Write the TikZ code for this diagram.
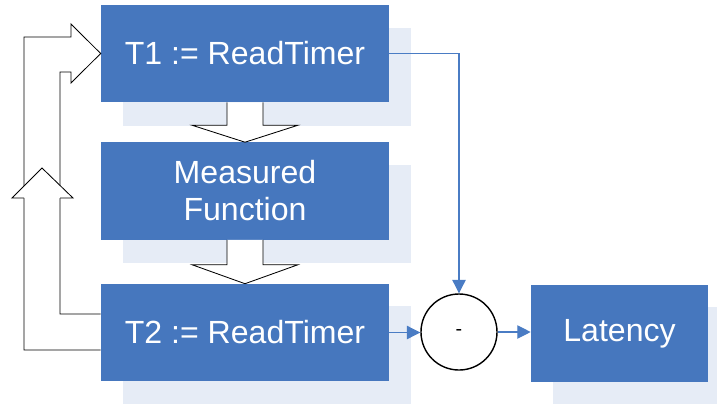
\documentclass[tikz,border=0pt]{standalone}
\usepackage{
	fontspec,			% Fonts
	xcolor,			% Colours
	tikz
}
\setmainfont{Liberation Sans}
\usetikzlibrary{calc,arrows.meta}

\definecolor{boxblue}{HTML}{4677BE}
\definecolor{shadeblue}{HTML}{E6ECF6}
\definecolor{lineblue}{HTML}{4A7CC4}

\begin{document}
\begin{tikzpicture}[x=0.025cm,y=-0.025cm,
		stage/.style={fill=boxblue,text=white,minimum width=7.2cm,minimum height=2.425cm,inner sep=0pt,align=center,font=\fontsize{22.8}{26.3}\selectfont},
		blockarr/.style={draw=black,fill=white,line width=0.6pt},
		link/.style={draw=lineblue,line width=0.8pt,-{Triangle[length=9.5pt,width=9.5pt]}}]
		\useasboundingbox (0,0) rectangle (717,404);
		\fill[shadeblue] (123,28) rectangle (411,126);
		\fill[shadeblue] (123,165) rectangle (411,263);
		\fill[shadeblue] (123,306) rectangle (411,404);
		\fill[shadeblue] (553,307) rectangle (730,404);
		\node[stage] (t1) at (245,53.5) {T1 := ReadTimer};
		\node[stage] (meas) at (245,191) {Measured\\Function};
		\node[stage] (t2) at (245,332.5) {T2 := ReadTimer};
		\node[stage,minimum width=4.425cm] (lat) at (619.5,333.5) {Latency};
		\node[circle,draw,line width=1pt,minimum size=1.9cm,inner sep=0pt,font=\fontsize{14}{16}\selectfont] (diff) at (459,332) {-};
		\draw[blockarr] ($(t1.south)+(-18,0)$) |- ($(meas.north)+(-53,-17)$) -- (meas.north) -- ($(meas.north)+(53,-17)$) -| ($(t1.south)+(18,0)$);
		\draw[blockarr] ($(meas.south)+(-18,0)$) |- ($(t2.north)+(-53,-19)$) -- (t2.north) -- ($(t2.north)+(53,-19)$) -| ($(meas.south)+(18,0)$);
		\draw[line width=0.6pt] ($(t2.west)+(0,17.5)$) -| (24,37) -- (71,37) -- (71,24) -- (t1.west) -- (71,83) -- (71,72) -- (60,72) |- ($(t2.west)+(0,-18.5)$);
		\filldraw[blockarr] (24,198) -- (12,198) -- (42,168) -- (73,198) -- (60,198);
		\draw[link] (t1.east) -| (diff.north);
		\draw[link] (t2.east) -- (t2.east -| diff.west);
		\draw[link] (diff.east) -- (diff.east -| lat.west);
	\end{tikzpicture}
\end{document}
